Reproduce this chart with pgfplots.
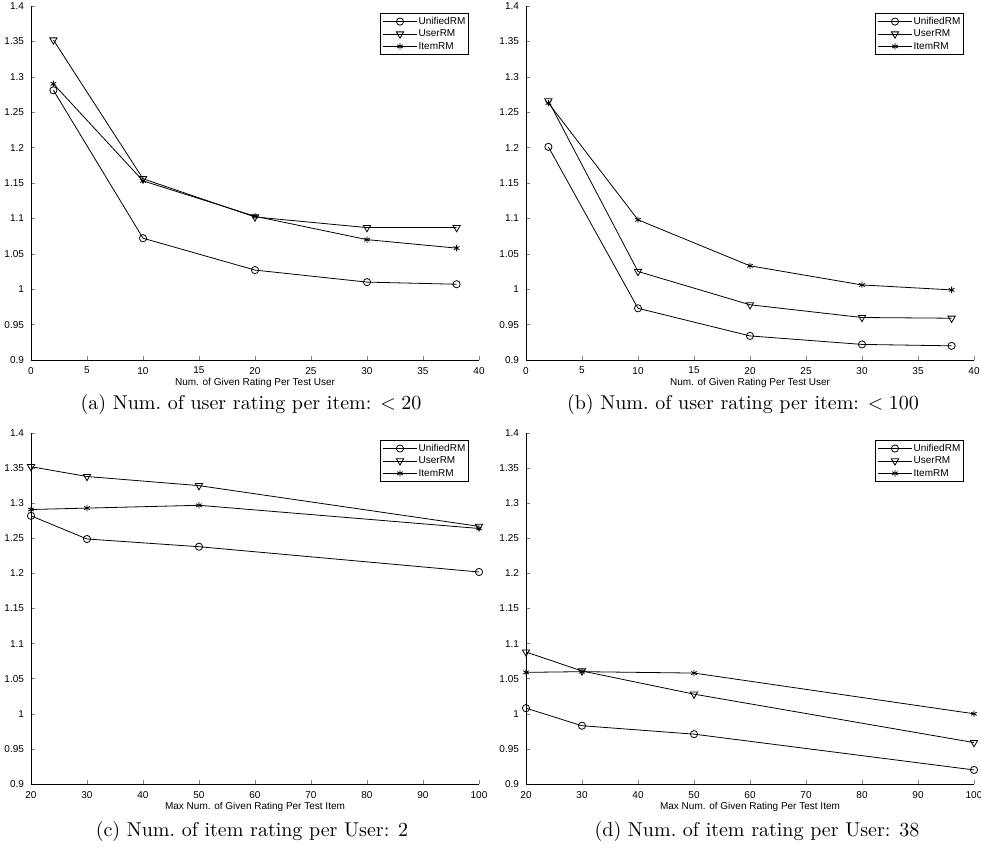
\documentclass[border=0pt]{standalone}
\usepackage{fontspec}
\newfontfamily\arial{Liberation Sans}
\usepackage{pgfplots}
\pgfplotsset{compat=1.18}

% MATLAB-like panel: left/bottom axis only, inward ticks, small Arial text
\pgfplotsset{
  rmplot/.style={
    scale only axis, width=224pt, height=177pt,
    axis lines=left, axis line style={-}, tick align=inside,
    major tick length=2pt,
    ymin=0.9, ymax=1.4,
    ytick={0.9,0.95,1,1.05,1.1,1.15,1.2,1.25,1.3,1.35,1.4},
    font=\arial\fontsize{5}{6}\selectfont,
    tick label style={font=\arial\fontsize{5}{6}\selectfont},
    label style={font=\arial\fontsize{5}{6}\selectfont},
    /pgf/number format/assume math mode=true,
    xlabel style={yshift=5pt},
    legend style={at={(0.978,0.98)},anchor=north east,draw=black,line width=0.6pt,
      font=\arial\fontsize{5}{6}\selectfont,inner sep=1pt,row sep=0.3pt,
      nodes={inner sep=0.6pt,text height=3.7pt,text depth=1pt}},
    legend cell align=left,
    every axis plot/.append style={black,line width=0.4pt},
  },
  unified/.style={mark=o,mark size=1.8pt},
  user/.style={mark=triangle,mark size=2.1pt,mark options={rotate=180}},
  item/.style={mark=asterisk,mark size=1.6pt},
}

\begin{document}
\begin{tikzpicture}
\path[use as bounding box] (0,0) rectangle (490.5pt,425pt);

% (a)
\begin{axis}[rmplot,at={(15.5pt,245pt)},anchor=south west,
  xmin=0,xmax=40,xtick={0,5,...,40},
  xlabel={Num. of Given Rating Per Test User}]
\addplot[unified] coordinates {(2,1.281) (10,1.072) (20,1.027) (30,1.010) (38,1.007)};
\addlegendentry{UnifiedRM}
\addplot[user] coordinates {(2,1.352) (10,1.156) (20,1.102) (30,1.087) (38,1.087)};
\addlegendentry{UserRM}
\addplot[item] coordinates {(2,1.290) (10,1.153) (20,1.103) (30,1.070) (38,1.058)};
\addlegendentry{ItemRM}
\end{axis}

% (b)
\begin{axis}[rmplot,at={(263pt,245pt)},anchor=south west,
  xmin=0,xmax=40,xtick={0,5,...,40},
  xlabel={Num. of Given Rating Per Test User}]
\addplot[unified] coordinates {(2,1.201) (10,0.973) (20,0.934) (30,0.922) (38,0.920)};
\addlegendentry{UnifiedRM}
\addplot[user] coordinates {(2,1.266) (10,1.025) (20,0.978) (30,0.960) (38,0.959)};
\addlegendentry{UserRM}
\addplot[item] coordinates {(2,1.263) (10,1.098) (20,1.033) (30,1.006) (38,0.999)};
\addlegendentry{ItemRM}
\end{axis}

% (c)
\begin{axis}[rmplot,at={(15.5pt,33pt)},anchor=south west,height=175.5pt,
  xmin=20,xmax=100,xtick={20,30,...,100},
  xlabel={Max Num. of Given Rating Per Test Item}]
\addplot[unified] coordinates {(20,1.282) (30,1.249) (50,1.238) (100,1.202)};
\addlegendentry{UnifiedRM}
\addplot[user] coordinates {(20,1.352) (30,1.338) (50,1.325) (100,1.267)};
\addlegendentry{UserRM}
\addplot[item] coordinates {(20,1.291) (30,1.293) (50,1.297) (100,1.264)};
\addlegendentry{ItemRM}
\end{axis}

% (d)
\begin{axis}[rmplot,at={(263pt,33pt)},anchor=south west,height=175.5pt,
  xmin=20,xmax=100,xtick={20,30,...,100},
  xlabel={Max Num. of Given Rating Per Test Item}]
\addplot[unified] coordinates {(20,1.008) (30,0.983) (50,0.971) (100,0.920)};
\addlegendentry{UnifiedRM}
\addplot[user] coordinates {(20,1.088) (30,1.061) (50,1.028) (100,0.959)};
\addlegendentry{UserRM}
\addplot[item] coordinates {(20,1.059) (30,1.060) (50,1.058) (100,1.000)};
\addlegendentry{ItemRM}
\end{axis}

% sub-figure captions
\node[anchor=base] at (125.5pt,220pt) {(a) Num.\ of user rating per item: $<20$};
\node[anchor=base] at (371.5pt,220pt) {(b) Num.\ of user rating per item: $<100$};
\node[anchor=base] at (126pt,6.5pt) {(c) Num.\ of item rating per User: 2};
\node[anchor=base] at (378.5pt,6.5pt) {(d) Num.\ of item rating per User: 38};
\end{tikzpicture}
\end{document}
